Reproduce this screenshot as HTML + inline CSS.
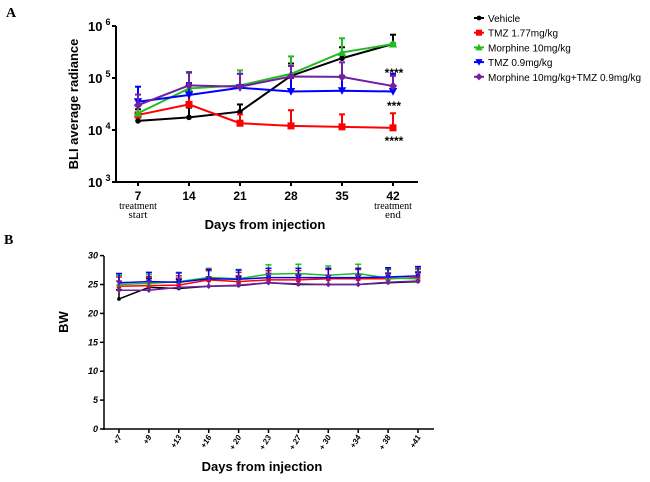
<!DOCTYPE html>
<html><head><meta charset="utf-8"><style>
body{margin:0;background:#fff;width:650px;height:477px;overflow:hidden;font-family:"Liberation Sans",Arial,sans-serif}
svg text{font-family:"Liberation Sans",Arial,sans-serif}
</style></head><body>
<svg id="s" width="650" height="477" xmlns="http://www.w3.org/2000/svg">
<text x="6" y="17" font-family="Liberation Serif" font-weight="bold" font-size="14" style="font-family:'Liberation Serif',serif">A</text>
<text x="4" y="244" font-weight="bold" font-size="14" style="font-family:'Liberation Serif',serif">B</text>
<g id="ga"></g>
<g id="gb"></g>
<g id="lg"></g>
</svg>
<script>
const seriesNames=["Vehicle","TMZ 1.77mg/kg","Morphine 10mg/kg","TMZ 0.9mg/kg","Morphine 10mg/kg+TMZ 0.9mg/kg"];
const colors=["#000000","#ff0000","#22bb22","#0000ff","#7020a0"];
const daysA=["7","14","21","28","35","42"];
const vehicleA=[15000,17500,22500,110000,240000,450000];
const tmz177A=[19500,31000,13500,12000,11500,11000];
const morphA=[21000,63000,72000,120000,310000,450000];
const tmz09A=[35000,47000,65000,55000,57000,55000];
const comboA=[30000,72000,68000,107000,105000,70000];
const errA=[[25000,27000,31000,190000,390000,680000],[30000,52000,20000,24000,20000,21000],[30000,125000,140000,260000,580000,470000],[68000,80000,120000,100000,110000,120000],[48000,130000,120000,170000,200000,110000]];
const daysB=["+7","+9","+13","+16","+ 20","+ 23","+ 27","+ 30","+34","+ 38","+41"];
const vehicleB=[22.5,24.5,24.3,24.7,24.8,25.3,25,25,25,25.3,25.5];
const tmz177B=[24.7,24.8,24.9,25.8,25.5,25.8,25.8,26,26,26,26.2];
const morphB=[25,25.2,25.5,26.2,26,26.8,26.9,26.6,26.9,26.1,26];
const tmz09B=[25.3,25.5,25.4,26,25.9,26.2,26.2,26.2,26.2,26.3,26.5];
const comboB=[24,24,24.5,24.7,24.9,25.3,25.1,25,25,25.4,25.6];
const yTicksA=["3","4","5","6"];
const yTicksB=["0","5","10","15","20","25","30"];
const NS="http://www.w3.org/2000/svg";
function mk(p,t,a,txt){const e=document.createElementNS(NS,t);for(const k in a)e.setAttribute(k,a[k]);if(txt!=null)e.textContent=txt;p.appendChild(e);return e;}
function marker(p,i,x,y,s){const c=colors[i];let e;
 if(i==0)e=mk(p,"circle",{cx:x,cy:y,r:s*0.8,fill:c});
 else if(i==1)e=mk(p,"rect",{x:x-s,y:y-s,width:2*s,height:2*s,fill:c});
 else if(i==2)e=mk(p,"polygon",{points:`${x},${y-s*1.2} ${x+s*1.2},${y+s} ${x-s*1.2},${y+s}`,fill:c});
 else if(i==3)e=mk(p,"polygon",{points:`${x},${y+s*1.2} ${x+s*1.2},${y-s} ${x-s*1.2},${y-s}`,fill:c});
 else e=mk(p,"polygon",{points:`${x},${y-s*1.2} ${x+s*1.2},${y} ${x},${y+s*1.2} ${x-s*1.2},${y}`,fill:c});
 return e;}
// Chart A
const ga=document.getElementById("ga");
const xA=i=>138+i*51, yA=v=>182-(Math.log10(v)-3)*52;
mk(ga,"line",{x1:116,y1:26,x2:116,y2:183,stroke:"#000","stroke-width":2});
mk(ga,"line",{x1:115,y1:182,x2:418,y2:182,stroke:"#000","stroke-width":2});
yTicksA.forEach(t=>{const y=yA(Math.pow(10,+t));mk(ga,"line",{x1:112,y1:y,x2:116,y2:y,stroke:"#000","stroke-width":2});
 const tx=mk(ga,"text",{x:88,y:y+5,"font-size":13,"font-weight":"bold"},"10");mk(tx,"tspan",{dx:3,dy:-6,"font-size":9},t);});
daysA.forEach((d,i)=>{const x=xA(i);mk(ga,"line",{x1:x,y1:182,x2:x,y2:186,stroke:"#000","stroke-width":2});
 mk(ga,"text",{x:x,y:200,"font-size":12,"font-weight":"bold","text-anchor":"middle"},d);});
mk(ga,"text",{x:138,y:209,"font-size":10,"text-anchor":"middle","style":"font-family:'Liberation Serif',serif"},"treatment");
mk(ga,"text",{x:138,y:218,"font-size":11,"text-anchor":"middle","style":"font-family:'Liberation Serif',serif"},"start");
mk(ga,"text",{x:393,y:209,"font-size":10,"text-anchor":"middle","style":"font-family:'Liberation Serif',serif"},"treatment");
mk(ga,"text",{x:393,y:218,"font-size":11,"text-anchor":"middle","style":"font-family:'Liberation Serif',serif"},"end");
mk(ga,"text",{x:265,y:229,"font-size":13,"font-weight":"bold","text-anchor":"middle"},"Days from injection");
mk(ga,"text",{x:0,y:0,"font-size":13,"font-weight":"bold","text-anchor":"middle",transform:"translate(78,104) rotate(-90)"},"BLI average radiance");
[vehicleA,tmz177A,morphA,tmz09A,comboA].forEach((arr,si)=>{
 const g=mk(ga,"g",{});
 arr.forEach((v,i)=>{const x=xA(i);mk(g,"line",{x1:x,y1:yA(v),x2:x,y2:yA(errA[si][i]),stroke:colors[si],"stroke-width":2});
  mk(g,"line",{x1:x-3,y1:yA(errA[si][i]),x2:x+3,y2:yA(errA[si][i]),stroke:colors[si],"stroke-width":2});});
 mk(g,"polyline",{points:arr.map((v,i)=>xA(i)+","+yA(v)).join(" "),fill:"none",stroke:colors[si],"stroke-width":2});
 arr.forEach((v,i)=>marker(g,si,xA(i),yA(v),3.5));});
mk(ga,"text",{x:394,y:77,"font-size":12,"font-weight":"bold","text-anchor":"middle"},"****");
mk(ga,"text",{x:394,y:110,"font-size":12,"font-weight":"bold","text-anchor":"middle"},"***");
mk(ga,"text",{x:394,y:145,"font-size":12,"font-weight":"bold","text-anchor":"middle"},"****");
// Chart B
const gb=document.getElementById("gb");
const xB=i=>119+i*29.9, yB=v=>429-v*5.78;
mk(gb,"line",{x1:104,y1:256,x2:104,y2:430,stroke:"#000","stroke-width":1.5});
mk(gb,"line",{x1:103,y1:429,x2:434,y2:429,stroke:"#000","stroke-width":1.5});
yTicksB.forEach(t=>{const y=yB(+t);mk(gb,"line",{x1:100,y1:y,x2:104,y2:y,stroke:"#000","stroke-width":1.5});
 mk(gb,"text",{x:98,y:y+3,"font-size":9,"font-weight":"bold","font-style":"italic","text-anchor":"end"},t);});
daysB.forEach((d,i)=>{const x=xB(i);mk(gb,"line",{x1:x,y1:429,x2:x,y2:433,stroke:"#000","stroke-width":1.5});
 mk(gb,"text",{x:0,y:0,"font-size":8,"font-weight":"bold","font-style":"italic","text-anchor":"end",transform:`translate(${x+3},${437}) rotate(-60)`},d);});
mk(gb,"text",{x:262,y:471,"font-size":13,"font-weight":"bold","text-anchor":"middle"},"Days from injection");
mk(gb,"text",{x:0,y:0,"font-size":13,"font-weight":"bold","text-anchor":"middle",transform:"translate(68,322) rotate(-90)"},"BW");
[vehicleB,tmz177B,morphB,tmz09B,comboB].forEach((arr,si)=>{
 const g=mk(gb,"g",{});
 arr.forEach((v,i)=>{const x=xB(i),e=yB(v+1.6);mk(g,"line",{x1:x,y1:yB(v),x2:x,y2:e,stroke:colors[si],"stroke-width":1.5});
  mk(g,"line",{x1:x-3,y1:e,x2:x+3,y2:e,stroke:colors[si],"stroke-width":1.5});});
 mk(g,"polyline",{points:arr.map((v,i)=>xB(i)+","+yB(v)).join(" "),fill:"none",stroke:colors[si],"stroke-width":1.5});
 arr.forEach((v,i)=>marker(g,si,xB(i),yB(v),2.3));});
// Legend
const lg=document.getElementById("lg");
seriesNames.forEach((n,i)=>{const y=18+i*14.7;const g=mk(lg,"g",{});
 
 mk(g,"line",{x1:474,y1:y,x2:484,y2:y,stroke:colors[i],"stroke-width":2});marker(g,i,479,y,3);
 mk(g,"text",{x:488,y:y+4,"font-size":10},n);});
</script>
</body></html>
